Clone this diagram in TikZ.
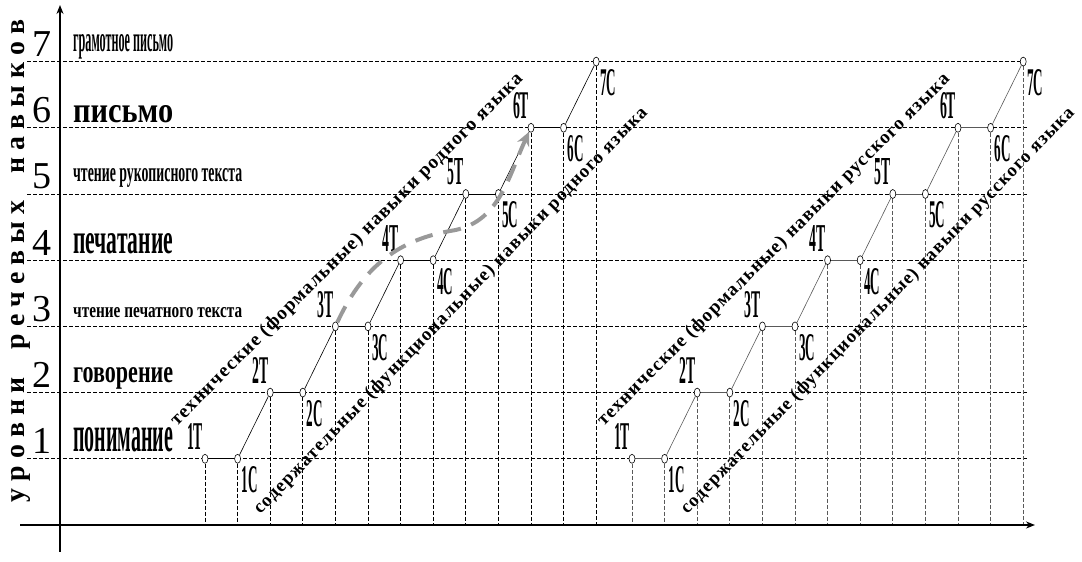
\documentclass[tikz,border=0pt]{standalone}
\usepackage{fontspec}
\setmainfont{Liberation Serif}
\usepackage{graphicx}
\usetikzlibrary{arrows.meta,shapes.geometric,backgrounds}

\def\lev{66.2}
\def\stp{32.6}
\newcommand{\cond}[1]{\resizebox{16pt}{26pt}{\bfseries #1}}

\tikzset{
  pt/.style={ellipse, draw, fill=white, line width=0.6pt, inner sep=0pt,
    minimum width=6pt, minimum height=9pt},
  ptlab/.style={inner sep=0pt},
  gridline/.style={line width=0.8pt, dash pattern=on 4pt off 2pt},
  link/.style={line width=0.6pt},
  axis/.style={line width=1.6pt, -{Stealth[length=9pt,width=7pt]}},
  levnum/.style={anchor=base, inner sep=0pt, font=\fontsize{38}{38}\selectfont},
  levlab/.style={anchor=base west, inner sep=0pt, font=\bfseries},
  diag/.style={inner sep=0pt, font=\bfseries\addfontfeature{LetterSpace=6}},
  progress/.style={draw=black!40, line width=4pt, dash pattern=on 18pt off 11pt,
    -{Stealth[length=14pt,width=13pt]}}
}

% one set of skills: #1 prefix, #2 x of 1T, #3 language, #4 colour
\newcommand{\skillset}[4]{
  \foreach \n in {1,...,6}{
    \node[pt] (#1T\n) at ({#2+(2*\n-2)*\stp}, {37+\lev*\n}) {};
    \node[pt] (#1C\n) at ({#2+(2*\n-1)*\stp}, {37+\lev*\n}) {};
    \node[ptlab] (#1lT\n) at ([shift={(-10,22)}]#1T\n) {\cond{{\n}Т}};
    \node[ptlab] (#1lC\n) at ([shift={(12,-21)}]#1C\n) {\cond{{\n}С}};
  }
  \node[pt] (#1C7) at ({#2+12*\stp}, {37+\lev*7}) {};
  \node[ptlab] (#1lC7) at ([shift={(12,-21)}]#1C7) {\cond{7С}};
  \begin{scope}[on background layer]
    \foreach \n in {1,...,7}
      \draw[gridline, draw=#4] (#1C\n) -- (#1C\n |- O);
    \foreach \n in {1,...,6}{
      \draw[gridline, draw=#4] (#1T\n) -- (#1T\n |- O);
      \draw[link, draw=#4] (#1T\n) -- (#1C\n);
    }
    \foreach \n [count=\m from 2] in {1,...,5}
      \draw[link, draw=#4] (#1C\n) -- (#1T\m);
    \draw[link, draw=#4] (#1C6) -- (#1C7);
  \end{scope}
  \node[diag, rotate=45] (#1up) at ({#2+142}, 312)
    {\resizebox{490pt}{!}{технические (формальные) навыки #3 языка}};
  \node[diag, rotate=46] (#1low) at ({#2+246}, 251)
    {\resizebox{558pt}{!}{содержательные (функциональные) навыки #3 языка}};
}

\begin{document}
\begin{tikzpicture}[x=1pt, y=1pt]
\useasboundingbox (0,0) rectangle (1082,562);

\coordinate (O) at (60,37);
\coordinate (ybot) at (60,10);
\coordinate (ytop) at (60,557);
\coordinate (xleft) at (20,37);
\coordinate (xright) at (1035,37);

% levels
\begin{scope}[on background layer]
  \foreach \n in {1,...,6}
    \draw[gridline] (27, {37+\lev*\n}) -- (1028, {37+\lev*\n});
  \draw[gridline] (27, {37+\lev*7}) -- (1020, {37+\lev*7});
\end{scope}

\draw[axis] (ybot) -- (ytop);
\draw[axis, line width=2pt] (xleft) -- (xright);

\node[rotate=90, anchor=base, inner sep=0pt] (ylab) at (25,301)
  {\resizebox{482pt}{!}{\bfseries у р о в н и\quad р е ч е в ы х\quad н а в ы к о в}};

\foreach \n/\w/\h/\d/\lab in {1/100/24/7/{понимание},
    2/100/15/10/{говорение},
    3/169/10/9/{чтение печатного текста},
    4/100/20/7/{печатание},
    5/169/13/12/{чтение рукописного текста},
    6/100/17/5/{письмо},
    7/100/17/10/{грамотное письмо}}{
  \node[levnum] (num\n) at (42, {37+\lev*\n+5}) {\n};
  \node[levlab] (lab\n) at (73, {37+\lev*\n+\d}) {\resizebox{\w pt}{\h pt}{\lab}};
}

\skillset{g}{205}{родного}{black}
\skillset{h}{632}{русского}{black!65}

% progress of the native language
\coordinate (bend) at (450,331);
\draw[progress] (gT3) to[out=65, in=190] (bend) to[out=8, in=245] (gT6);
\end{tikzpicture}
\end{document}
